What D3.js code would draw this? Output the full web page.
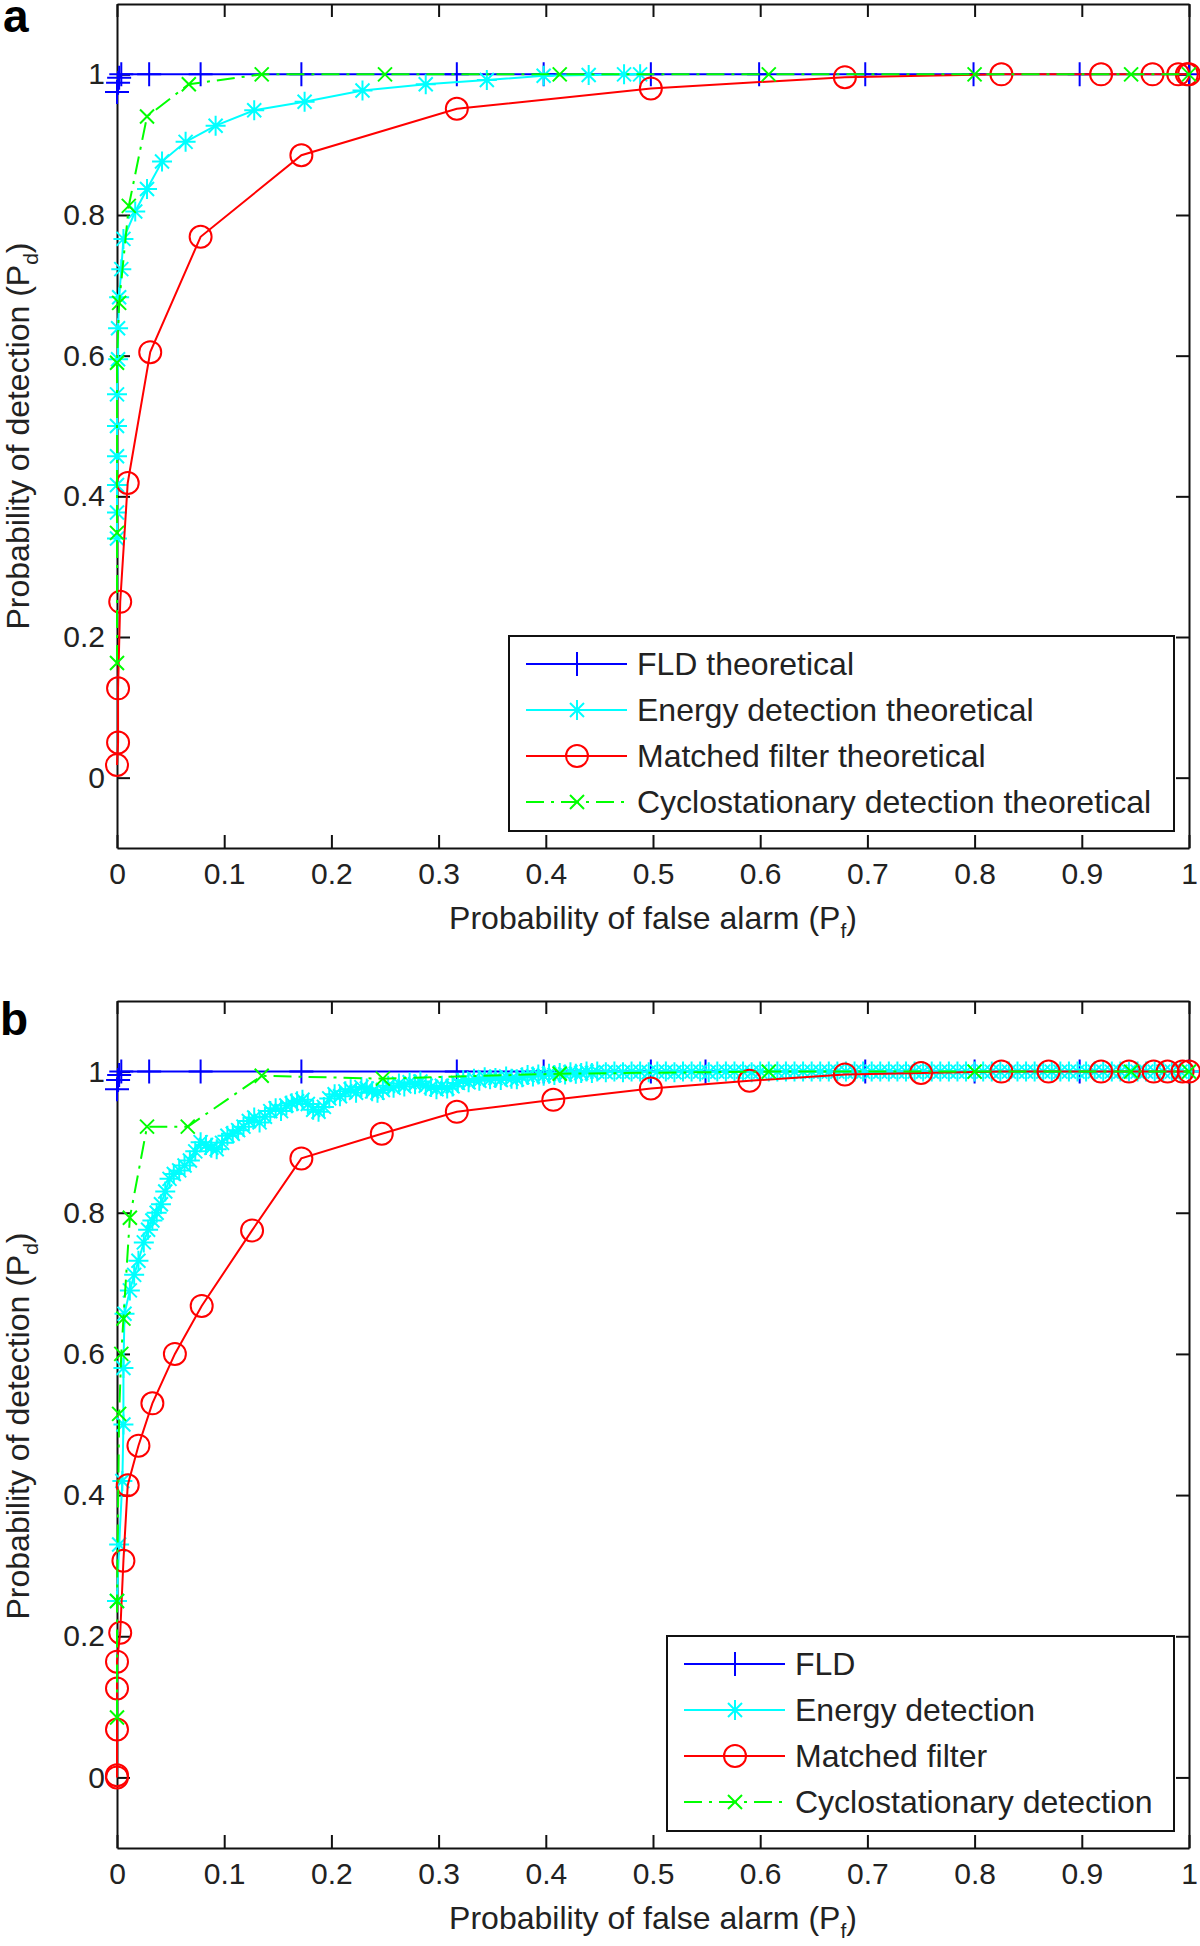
<!DOCTYPE html>
<html>
<head>
<meta charset="utf-8">
<script src="https://cdn.jsdelivr.net/npm/d3@7"></script>
<style>
body { margin: 0; background: #fff; }
text { font-family: "Liberation Sans", Arial, sans-serif; fill: #222; }
</style>
</head>
<body>
<script>
// Canvas size of the figure
var width = 1200;
var height = 1946;

// Tick values and their labels
var xTicks = [0, 0.1, 0.2, 0.3, 0.4, 0.5, 0.6, 0.7, 0.8, 0.9, 1];
var xTickLabels = ["0", "0.1", "0.2", "0.3", "0.4", "0.5", "0.6", "0.7", "0.8", "0.9", "1"];
var yTicks = [0, 0.2, 0.4, 0.6, 0.8, 1];
var yTickLabels = ["0", "0.2", "0.4", "0.6", "0.8", "1"];

// Legend labels of both panels
var legendA = ["FLD theoretical", "Energy detection theoretical", "Matched filter theoretical", "Cyclostationary detection theoretical"];
var legendB = ["FLD", "Energy detection", "Matched filter", "Cyclostationary detection"];

// Panel a: [Pf, Pd] pairs
var fldA = [[0, 0.975], [0.001, 0.988], [0.002, 0.995], [0.004, 1], [0.03, 1], [0.078, 1], [0.172, 1], [0.317, 1],
    [0.398, 1], [0.498, 1], [0.599, 1], [0.698, 1], [0.799, 1], [0.898, 1], [1, 1]];
var energyA = [[0, 0.34], [0, 0.377], [0, 0.416], [0, 0.457], [0, 0.5], [0, 0.545], [0.001, 0.595], [0.001, 0.639],
    [0.002, 0.683], [0.004, 0.723], [0.006, 0.766], [0.017, 0.805], [0.028, 0.837], [0.042, 0.876], [0.064, 0.904],
    [0.092, 0.927], [0.128, 0.949], [0.175, 0.961], [0.229, 0.977], [0.288, 0.986], [0.345, 0.992], [0.398, 0.998],
    [0.44, 0.999], [0.473, 1], [0.488, 1]];
var matchedA = [[0, 0.018], [0.001, 0.05], [0.001, 0.127], [0.003, 0.25], [0.01, 0.419], [0.031, 0.605], [0.078, 0.769],
    [0.172, 0.885], [0.317, 0.951], [0.498, 0.98], [0.679, 0.996], [0.825, 1], [0.918, 1], [0.966, 1], [0.99, 1],
    [0.998, 1], [1, 1]];
var cycloA = [[0, 0.163], [0, 0.348], [0, 0.59], [0.002, 0.675], [0.011, 0.813], [0.028, 0.94], [0.067, 0.986],
    [0.135, 1], [0.25, 1], [0.413, 1], [0.608, 1], [0.8, 1], [0.946, 1], [1, 1]];

// Panel b: [Pf, Pd] pairs
var fldB = [[0, 0.975], [0.001, 0.988], [0.002, 0.995], [0.004, 1], [0.03, 1], [0.078, 1], [0.172, 1], [0.317, 1],
    [0.398, 1], [0.498, 1], [0.549, 1], [0.698, 1], [0.8, 1], [0.898, 1], [1, 1]];
var energyB = [[0, 0.25], [0.002, 0.33], [0.005, 0.42], [0.006, 0.5], [0.006, 0.58], [0.007, 0.657], [0.012, 0.69],
    [0.016, 0.712], [0.02, 0.732], [0.025, 0.758], [0.029, 0.776], [0.033, 0.789], [0.037, 0.8], [0.041, 0.812],
    [0.045, 0.83], [0.049, 0.848], [0.053, 0.855], [0.058, 0.86], [0.063, 0.867], [0.068, 0.874], [0.073, 0.887],
    [0.078, 0.9], [0.083, 0.896], [0.088, 0.892], [0.093, 0.89], [0.098, 0.899], [0.103, 0.909], [0.108, 0.912],
    [0.113, 0.917], [0.118, 0.922], [0.123, 0.93], [0.128, 0.935], [0.133, 0.928], [0.138, 0.936], [0.143, 0.944],
    [0.148, 0.948], [0.153, 0.944], [0.158, 0.952], [0.163, 0.955], [0.168, 0.958], [0.173, 0.96], [0.178, 0.954],
    [0.183, 0.946], [0.188, 0.943], [0.193, 0.95], [0.198, 0.962], [0.203, 0.968], [0.208, 0.965], [0.213, 0.972],
    [0.218, 0.975], [0.223, 0.97], [0.228, 0.978], [0.233, 0.976], [0.238, 0.972], [0.243, 0.97], [0.248, 0.974],
    [0.253, 0.98], [0.258, 0.977], [0.263, 0.983], [0.268, 0.979], [0.273, 0.985], [0.278, 0.982], [0.283, 0.986],
    [0.288, 0.98], [0.293, 0.978], [0.298, 0.975], [0.303, 0.98], [0.308, 0.976], [0.313, 0.979], [0.318, 0.984],
    [0.323, 0.988], [0.328, 0.985], [0.333, 0.99], [0.338, 0.987], [0.343, 0.992], [0.348, 0.989], [0.353, 0.991],
    [0.358, 0.988], [0.363, 0.993], [0.368, 0.99], [0.373, 0.989], [0.378, 0.992], [0.383, 0.995], [0.388, 0.993],
    [0.393, 0.996], [0.398, 0.994], [0.403, 0.997], [0.408, 0.995], [0.413, 0.998], [0.418, 0.996], [0.423, 0.999],
    [0.428, 0.997], [0.433, 0.998], [0.438, 1], [0.443, 0.998], [0.448, 1], [0.456, 0.999], [0.464, 1], [0.472, 0.999],
    [0.48, 1], [0.488, 1], [0.496, 0.999], [0.504, 1], [0.512, 1], [0.52, 0.999], [0.528, 1], [0.536, 1], [0.544, 1],
    [0.552, 0.999], [0.56, 1], [0.568, 1], [0.576, 1], [0.584, 1], [0.592, 0.999], [0.6, 1], [0.608, 1], [0.616, 1],
    [0.624, 1], [0.632, 1], [0.64, 1], [0.648, 1], [0.656, 1], [0.664, 1], [0.672, 1], [0.68, 1], [0.688, 1],
    [0.696, 1], [0.704, 1], [0.712, 1], [0.72, 1], [0.728, 1], [0.736, 1], [0.744, 1], [0.752, 1], [0.76, 1],
    [0.768, 1], [0.776, 1], [0.784, 1], [0.792, 1], [0.8, 1], [0.808, 1], [0.816, 1], [0.824, 1], [0.832, 1],
    [0.84, 1], [0.848, 1], [0.856, 1], [0.864, 1], [0.872, 1], [0.88, 1], [0.888, 1], [0.896, 1], [0.904, 1],
    [0.912, 1], [0.92, 1], [0.928, 1], [0.936, 1], [0.944, 1], [0.952, 1], [0.96, 1], [0.968, 1], [0.976, 1],
    [0.984, 1], [0.992, 1], [1, 1]];
var matchedB = [[0, 0], [0, 0.003], [0, 0.068], [0, 0.126], [0, 0.164], [0.003, 0.205], [0.006, 0.307], [0.01, 0.414],
    [0.02, 0.47], [0.033, 0.53], [0.054, 0.6], [0.079, 0.668], [0.126, 0.775], [0.172, 0.877], [0.247, 0.912],
    [0.317, 0.943], [0.407, 0.96], [0.498, 0.976], [0.59, 0.987], [0.679, 0.996], [0.75, 0.998], [0.825, 1],
    [0.869, 1], [0.918, 1], [0.944, 1], [0.967, 1], [0.98, 1], [0.994, 1], [1, 1]];
var cycloB = [[0, 0.085], [0, 0.25], [0.002, 0.515], [0.004, 0.6], [0.006, 0.65], [0.012, 0.793], [0.028, 0.922],
    [0.066, 0.922], [0.135, 0.994], [0.248, 0.99], [0.413, 0.997], [0.608, 1], [0.8, 1], [0.946, 1], [1, 1]];

// Line colour, marker and dash of each series (MATLAB b*, c*, r o, g x-.)
var styles = [
    { color: "#0000ff", marker: "plus", dash: null },
    { color: "#00ffff", marker: "star", dash: null },
    { color: "#ff0000", marker: "circle", dash: null },
    { color: "#00ff00", marker: "cross", dash: "18,7,3,7" }
];

var panels = [
    { letter: "a", letterX: 3, letterY: 32, top: 4, bottom: 848, yLabelMid: 436,
      series: [fldA, energyA, matchedA, cycloA], labels: legendA,
      legend: { x: 509, y: 636, w: 665, h: 195 } },
    { letter: "b", letterX: 0, letterY: 1035, top: 1001, bottom: 1848, yLabelMid: 1426,
      series: [fldB, energyB, matchedB, cycloB], labels: legendB,
      legend: { x: 667, y: 1636, w: 507, h: 195 } }
];

var plotLeft = 117;
var plotRight = 1189;

var svg = d3.select("body")
    .append("svg")
    .attr("width", width)
    .attr("height", height);

function markerPath(type) {
    if (type == "plus") return "M-12,0H12M0,-12V12";
    if (type == "star") return "M-10,0H10M0,-10V10M-7,-7L7,7M-7,7L7,-7";
    return "M-7,-7L7,7M-7,7L7,-7";
}

// Draw one marker shape at (cx, cy)
function drawMarker(g, style, cx, cy) {
    if (style.marker == "circle") {
        g.append("circle")
            .attr("cx", cx).attr("cy", cy).attr("r", 11)
            .attr("fill", "none")
            .attr("stroke", style.color)
            .attr("stroke-width", 2);
    } else {
        g.append("path")
            .attr("d", markerPath(style.marker))
            .attr("transform", "translate(" + cx + "," + cy + ")")
            .attr("fill", "none")
            .attr("stroke", style.color)
            .attr("stroke-width", 2);
    }
}

function styleAxis(axisG, size) {
    axisG.attr("font-size", null).attr("font-family", null);
    axisG.select(".domain").attr("stroke", "#111").attr("stroke-width", 2);
    axisG.selectAll(".tick line").attr("stroke", "#111").attr("stroke-width", 2);
    axisG.selectAll(".tick text").style("font-size", size + "px").attr("fill", "#222");
}

function drawPanel(p) {
    var x = d3.scaleLinear().domain([0, 1]).range([plotLeft, plotRight]);
    var y = d3.scaleLinear().domain([-0.1, 1.1]).range([p.bottom, p.top]);
    var g = svg.append("g");

    // Box with inward ticks on all four sides
    var bottomAxis = g.append("g")
        .attr("transform", "translate(0," + p.bottom + ")")
        .call(d3.axisBottom(x).tickValues(xTicks)
            .tickFormat(function (d, i) { return xTickLabels[i]; })
            .tickSize(-13).tickSizeOuter(0).tickPadding(15));
    styleAxis(bottomAxis, 30);

    var topAxis = g.append("g")
        .attr("transform", "translate(0," + p.top + ")")
        .call(d3.axisTop(x).tickValues(xTicks).tickFormat("").tickSize(-13).tickSizeOuter(0));
    styleAxis(topAxis, 30);

    var leftAxis = g.append("g")
        .attr("transform", "translate(" + plotLeft + ",0)")
        .call(d3.axisLeft(y).tickValues(yTicks)
            .tickFormat(function (d, i) { return yTickLabels[i]; })
            .tickSize(-13).tickSizeOuter(0).tickPadding(12));
    styleAxis(leftAxis, 30);

    var rightAxis = g.append("g")
        .attr("transform", "translate(" + plotRight + ",0)")
        .call(d3.axisRight(y).tickValues(yTicks).tickFormat("").tickSize(-13).tickSizeOuter(0));
    styleAxis(rightAxis, 30);

    // Curves, in plotting order
    var line = d3.line()
        .x(function (d) { return x(d[0]); })
        .y(function (d) { return y(d[1]); });

    p.series.forEach(function (data, i) {
        var st = styles[i];
        var sg = g.append("g");
        sg.append("path")
            .datum(data)
            .attr("d", line)
            .attr("fill", "none")
            .attr("stroke", st.color)
            .attr("stroke-width", 2)
            .attr("stroke-dasharray", st.dash);
        data.forEach(function (d) {
            drawMarker(sg, st, x(d[0]), y(d[1]));
        });
    });

    // Axis titles
    var xl = g.append("text")
        .attr("x", (plotLeft + plotRight) / 2)
        .attr("y", p.bottom + 81)
        .attr("text-anchor", "middle")
        .style("font-size", "32px");
    xl.append("tspan").text("Probability of false alarm (P");
    xl.append("tspan").attr("dy", 9).style("font-size", "21px").text("f");
    xl.append("tspan").attr("dy", -9).text(")");

    var yl = g.append("text")
        .attr("transform", "translate(29," + p.yLabelMid + ") rotate(-90)")
        .attr("text-anchor", "middle")
        .style("font-size", "32px");
    yl.append("tspan").text("Probability of detection (P");
    yl.append("tspan").attr("dy", 9).style("font-size", "21px").text("d");
    yl.append("tspan").attr("dy", -9).text(")");

    // Panel letter
    g.append("text")
        .attr("x", p.letterX)
        .attr("y", p.letterY)
        .style("font-size", "46px")
        .style("font-weight", "bold")
        .style("fill", "#000")
        .text(p.letter);

    // Legend
    var lg = g.append("g");
    lg.append("rect")
        .attr("x", p.legend.x).attr("y", p.legend.y)
        .attr("width", p.legend.w).attr("height", p.legend.h)
        .attr("fill", "#fff")
        .attr("stroke", "#111")
        .attr("stroke-width", 2);
    p.labels.forEach(function (label, i) {
        var st = styles[i];
        var cy = p.legend.y + 28 + i * 46;
        lg.append("line")
            .attr("x1", p.legend.x + 17).attr("x2", p.legend.x + 118)
            .attr("y1", cy).attr("y2", cy)
            .attr("stroke", st.color)
            .attr("stroke-width", 2)
            .attr("stroke-dasharray", st.dash);
        drawMarker(lg, st, p.legend.x + 68, cy);
        lg.append("text")
            .attr("x", p.legend.x + 128)
            .attr("y", cy + 11)
            .style("font-size", "32px")
            .text(label);
    });
}

panels.forEach(drawPanel);
</script>
</body>
</html>
